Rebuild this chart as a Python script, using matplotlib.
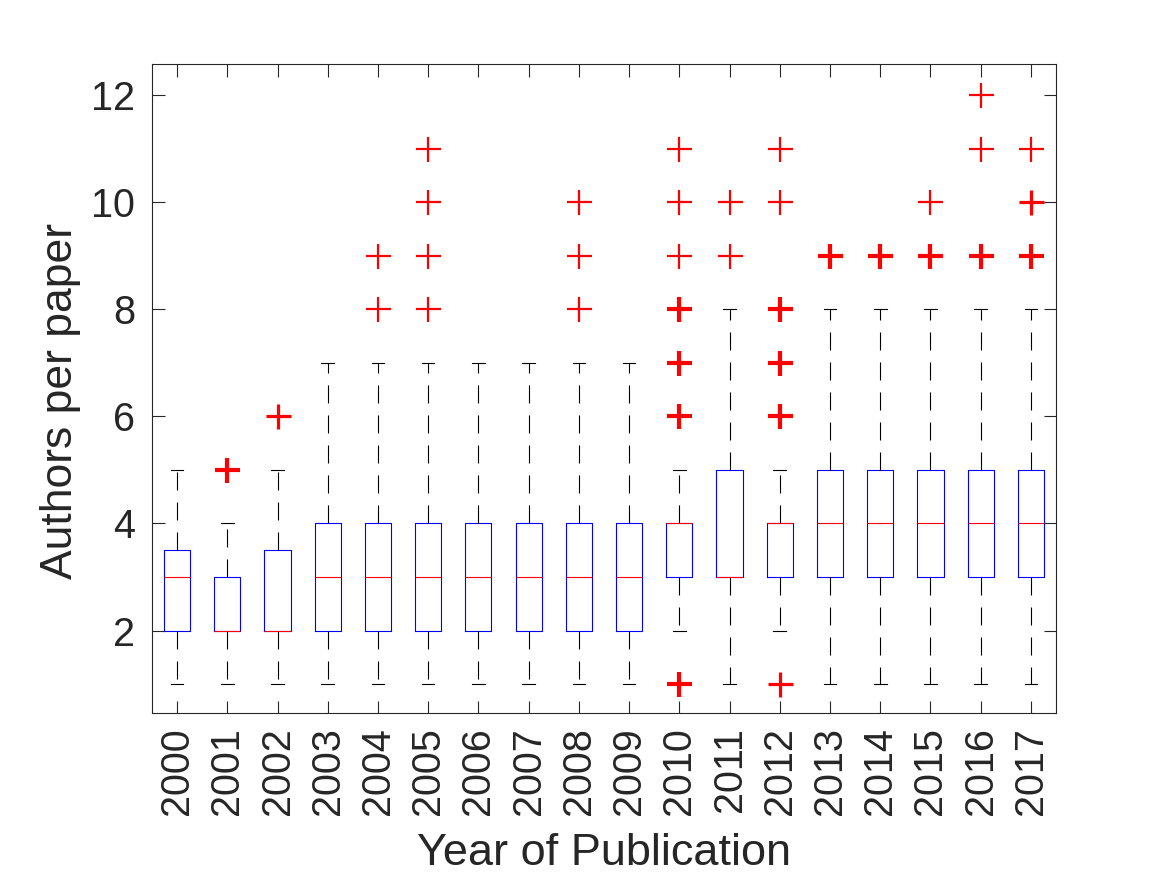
import matplotlib
matplotlib.use("Agg")
import matplotlib.pyplot as plt
from collections import Counter

years = ["2000", "2001", "2002", "2003", "2004", "2005", "2006", "2007", "2008",
         "2009", "2010", "2011", "2012", "2013", "2014", "2015", "2016", "2017"]
whisker_low = [1, 1, 1, 1, 1, 1, 1, 1, 1, 1, 2, 1, 2, 1, 1, 1, 1, 1]
q1 = [2, 2, 2, 2, 2, 2, 2, 2, 2, 2, 3, 3, 3, 3, 3, 3, 3, 3]
medians = [3, 2, 2, 3, 3, 3, 3, 3, 3, 3, 4, 3, 4, 4, 4, 4, 4, 4]
q3 = [3.5, 3, 3.5, 4, 4, 4, 4, 4, 4, 4, 4, 5, 4, 5, 5, 5, 5, 5]
whisker_high = [5, 4, 5, 7, 7, 7, 7, 7, 7, 7, 5, 8, 5, 8, 8, 8, 8, 8]
# repeated values = several papers with the same count (drawn on top of each other)
outliers = [
    [],
    [5, 5, 5],
    [6, 6],
    [],
    [8, 9],
    [8, 9, 10, 11],
    [],
    [],
    [8, 9, 10],
    [],
    [1, 1, 1, 6, 6, 6, 7, 7, 7, 8, 8, 8, 9, 10, 11],
    [9, 10],
    [1, 1, 6, 6, 6, 7, 7, 7, 8, 8, 8, 10, 11],
    [9, 9, 9],
    [9, 9, 9],
    [9, 9, 9, 10],
    [9, 9, 9, 11, 12],
    [9, 9, 9, 10, 10, 11],
]
y_ticks = [2, 4, 6, 8, 10, 12]

plt.rcParams['font.family'] = ['Liberation Sans', 'DejaVu Sans']
plt.rcParams['lines.scale_dashes'] = False

fig = plt.figure(figsize=(11.67, 8.75), dpi=100)
ax = fig.add_axes([0.1302, 0.1851, 0.7747, 0.7418])

stats = []
for i, y in enumerate(years):
    stats.append(dict(label=y, whislo=whisker_low[i], q1=q1[i], med=medians[i],
                      q3=q3[i], whishi=whisker_high[i], fliers=[]))

positions = list(range(1, len(years) + 1))
ax.bxp(stats, positions=positions, widths=0.52, showfliers=False,
       boxprops=dict(color='#0000ff', linewidth=0.8),
       medianprops=dict(color='#ff0000', linewidth=0.8),
       whiskerprops=dict(color='black', linewidth=0.8, linestyle=(0, (13, 8.6))),
       capprops=dict(color='black', linewidth=0.8),
       capwidths=0.25)

# outliers: overlapping points look heavier
mew_by_count = {1: 1.6, 2: 2.3, 3: 3.0}
for pos, vals in zip(positions, outliers):
    for v, c in Counter(vals).items():
        ax.plot([pos], [v], linestyle='none', marker='+', markersize=18,
                markeredgecolor='#ff0000', markeredgewidth=mew_by_count[min(c, 3)])

ax.set_xlim(0.5, 18.5)
ax.set_ylim(0.46, 12.58)
ax.set_yticks(y_ticks)
ax.set_yticklabels([str(v) for v in y_ticks])
ax.set_xticks(positions)
ax.set_xticklabels(years, rotation=90)

ax.tick_params(direction='in', length=9, width=0.8, color='#262626',
               labelsize=28.5, labelcolor='#262626', top=True, right=True)
ax.tick_params(axis='y', pad=12)
ax.tick_params(axis='x', pad=10)
for s in ax.spines.values():
    s.set_color('#262626')
    s.set_linewidth(0.8)

ax.set_xlabel('Year of Publication', fontsize=32.5, color='#262626')
ax.set_ylabel('Authors per paper', fontsize=32, color='#262626')
ax.xaxis.set_label_coords(0.5, -0.185)
ax.yaxis.set_label_coords(-0.078, 0.48)

fig.savefig('out.png', dpi=100, facecolor='white')
